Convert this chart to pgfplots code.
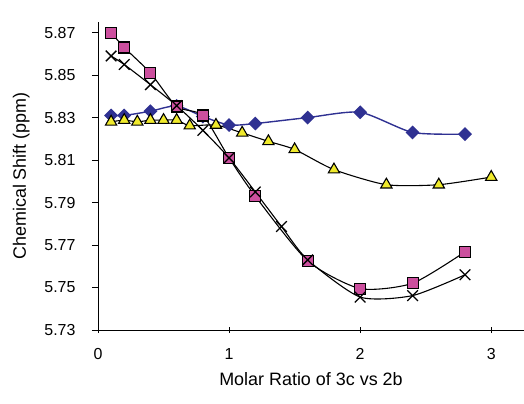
\documentclass[border=0pt]{standalone}
\usepackage{fontspec}
\setmainfont{Liberation Sans}
\usepackage{pgfplots}
\pgfplotsset{compat=1.18}

\definecolor{navyline}{HTML}{2F3192}
\definecolor{pinkfill}{HTML}{CC4F9E}
\definecolor{yellowfill}{HTML}{F0EA2C}

\begin{document}
\begin{tikzpicture}
\begin{axis}[
  scale only axis, width=426bp, height=308bp,
  xmin=0, xmax=3.25, ymin=5.73, ymax=5.875,
  axis lines=left, axis line style={-, black, line width=0.8pt},
  xtick={0,1,2,3}, ytick={5.73,5.75,...,5.87},
  ytick align=outside, xtick align=center, major tick length=6bp,
  tick style={black, line width=0.6pt},
  /pgf/number format/assume math mode=true,
  yticklabel style={/pgf/number format/fixed, /pgf/number format/precision=2,
    /pgf/number format/fixed zerofill, font=\fontsize{16}{18}\selectfont, xshift=-13bp},
  xticklabel style={font=\fontsize{16}{18}\selectfont, yshift=-12bp},
  xlabel={Molar Ratio of 3c vs 2b}, ylabel={Chemical Shift (ppm)},
  label style={font=\fontsize{18}{20}\selectfont},
  xlabel style={yshift=-6bp}, ylabel style={yshift=8bp},
  every axis plot/.append style={smooth, tension=0.4},
  clip=false,
]
% diamonds
\addplot[navyline, line width=1.4pt, mark=square*, mark size=4.2bp,
  mark options={fill=navyline, draw=navyline, rotate=45}] coordinates {
  (0.1,5.8310)(0.2,5.8310)(0.4,5.8330)(0.6,5.8355)(0.8,5.8305)(1.0,5.8265)
  (1.2,5.8272)(1.6,5.8300)(2.0,5.8325)(2.4,5.8230)(2.8,5.8222)};
% triangles
\addplot[black, line width=1.1pt, mark=triangle*, mark size=6.5bp,
  mark options={fill=yellowfill, draw=black, line width=1.1pt}] coordinates {
  (0.1,5.8280)(0.2,5.8288)(0.3,5.8280)(0.4,5.8288)(0.5,5.8288)(0.6,5.8288)
  (0.7,5.8262)(0.9,5.8265)(1.1,5.8228)(1.3,5.8188)(1.5,5.8150)(1.8,5.8055)
  (2.2,5.7984)(2.6,5.7984)(3.0,5.8020)};
% squares
\addplot[black, line width=1.1pt, mark=square*, mark size=5.5bp,
  mark options={fill=pinkfill, draw=black, line width=1.1pt}] coordinates {
  (0.1,5.8700)(0.2,5.8630)(0.4,5.8510)(0.6,5.8352)(0.8,5.8310)(1.0,5.8110)
  (1.2,5.7930)(1.6,5.7625)(2.0,5.7495)(2.4,5.7520)(2.8,5.7668)};
% crosses
\addplot[black, line width=1.1pt, mark=x, mark size=7.5bp,
  mark options={draw=black, line width=1.3pt}] coordinates {
  (0.1,5.8590)(0.2,5.8550)(0.4,5.8455)(0.6,5.8356)(0.8,5.8240)(1.0,5.8110)
  (1.2,5.7950)(1.4,5.7787)(1.6,5.7630)(2.0,5.7455)(2.4,5.7462)(2.8,5.7560)};
\end{axis}
\pgfresetboundingbox
\path[use as bounding box] (-98bp,-74bp) rectangle (426bp,330bp);
\end{tikzpicture}
\end{document}
